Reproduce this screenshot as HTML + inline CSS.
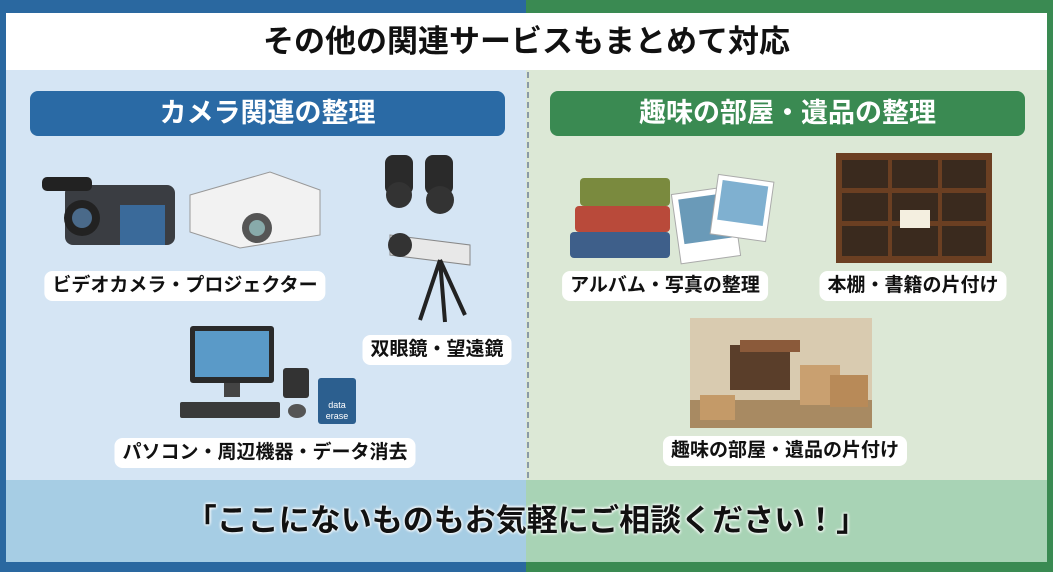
<!DOCTYPE html>
<html><head><meta charset="utf-8"><style>
*{margin:0;padding:0;box-sizing:border-box}
body{width:1053px;height:572px;position:relative;overflow:hidden;font-family:"Liberation Sans","Noto Sans CJK JP",sans-serif;background:#2a68a0}
.a{position:absolute}
.lbl{position:absolute;background:#fff;border-radius:8px;font-weight:bold;font-size:19px;color:#111;padding:2px 8px;white-space:nowrap;transform:translateX(-50%);line-height:26px}
.hd{position:absolute;top:91px;height:45px;border-radius:8px;color:#fff;font-weight:bold;font-size:27px;text-align:center;line-height:45px}
</style></head><body>
<div class="a" style="left:526px;top:0;width:527px;height:572px;background:#3a8a52"></div>
<div class="a" style="left:6px;top:70px;width:520px;height:410px;background:#d5e5f4"></div>
<div class="a" style="left:526px;top:70px;width:521px;height:410px;background:#dce8d6"></div>
<div class="a" style="left:527px;top:72px;height:406px;border-left:2px dashed #8a9aa8"></div>
<div class="a" style="left:6px;top:480px;width:520px;height:82px;background:#a6cde4"></div>
<div class="a" style="left:526px;top:480px;width:521px;height:82px;background:#a8d3b5"></div>
<div class="a" style="left:6px;top:13px;width:1041px;height:57px;background:#fff;text-align:center;font-weight:bold;font-size:31px;line-height:57px;color:#111">その他の関連サービスもまとめて対応</div>
<div class="hd" style="left:30px;width:475px;background:#2a6aa5">カメラ関連の整理</div>
<div class="hd" style="left:550px;width:475px;background:#3a8a52">趣味の部屋・遺品の整理</div>
<svg class="a" style="left:0;top:0" width="1053" height="572">
<!-- video camera -->
<rect x="65" y="185" width="110" height="60" rx="8" fill="#3a3d42"/><rect x="42" y="177" width="50" height="14" rx="5" fill="#222"/>
<circle cx="82" cy="218" r="18" fill="#222"/><circle cx="82" cy="218" r="10" fill="#4a6a8a"/>
<rect x="120" y="205" width="45" height="40" fill="#3a6a9a"/>
<!-- projector -->
<path d="M190 195 L270 172 L320 190 L320 235 L240 248 L190 232 Z" fill="#f2f2f2" stroke="#999"/>
<circle cx="257" cy="228" r="15" fill="#555"/><circle cx="257" cy="228" r="8" fill="#8aa"/>
<!-- binoculars -->
<rect x="385" y="155" width="28" height="40" rx="8" fill="#2a2a2a"/><rect x="425" y="155" width="28" height="40" rx="8" fill="#2a2a2a"/>
<circle cx="399" cy="195" r="13" fill="#333"/><circle cx="440" cy="200" r="14" fill="#333"/>
<!-- telescope -->
<path d="M390 235 L470 245 L470 265 L390 255 Z" fill="#e8e8e8" stroke="#888"/><circle cx="400" cy="245" r="12" fill="#333"/>
<path d="M440 260 L420 320 M440 260 L445 322 M440 260 L465 315" stroke="#222" stroke-width="4"/>
<!-- computer -->
<rect x="190" y="326" width="84" height="57" rx="3" fill="#2a2a2a"/><rect x="195" y="331" width="74" height="46" fill="#5a9ac8"/>
<rect x="224" y="383" width="16" height="14" fill="#444"/><rect x="180" y="402" width="100" height="16" rx="2" fill="#3a3a3a"/>
<rect x="283" y="368" width="26" height="30" rx="3" fill="#333"/><ellipse cx="297" cy="411" rx="9" ry="7" fill="#555"/>
<rect x="318" y="378" width="38" height="46" rx="3" fill="#2c5f8f"/>
<text x="337" y="408" font-size="9" fill="#fff" text-anchor="middle" font-family="Liberation Sans">data</text><text x="337" y="419" font-size="9" fill="#fff" text-anchor="middle" font-family="Liberation Sans">erase</text>
<!-- books -->
<rect x="570" y="232" width="100" height="26" rx="4" fill="#3e5f8a"/><rect x="575" y="206" width="95" height="26" rx="4" fill="#b94a3a"/><rect x="580" y="178" width="90" height="28" rx="4" fill="#7a8a3e"/>
<!-- photos -->
<rect x="676" y="190" width="60" height="70" fill="#fff" stroke="#aaa" transform="rotate(-8 706 225)"/><rect x="682" y="196" width="48" height="45" fill="#6a9ab8" transform="rotate(-8 706 225)"/>
<rect x="714" y="178" width="56" height="60" fill="#fff" stroke="#aaa" transform="rotate(8 742 208)"/><rect x="719" y="183" width="46" height="40" fill="#7fb0d0" transform="rotate(8 742 208)"/>
<!-- bookshelf -->
<rect x="836" y="153" width="156" height="110" fill="#6b3f22"/>
<g fill="#3a2a1e"><rect x="842" y="160" width="46" height="28"/><rect x="892" y="160" width="46" height="28"/><rect x="942" y="160" width="44" height="28"/>
<rect x="842" y="193" width="46" height="28"/><rect x="892" y="193" width="46" height="28"/><rect x="942" y="193" width="44" height="28"/>
<rect x="842" y="226" width="46" height="30"/><rect x="892" y="226" width="46" height="30"/><rect x="942" y="226" width="44" height="30"/></g>
<rect x="900" y="210" width="30" height="18" fill="#f4efe0"/>
<!-- room -->
<rect x="690" y="318" width="182" height="110" fill="#d9cbb0"/><rect x="690" y="400" width="182" height="28" fill="#a88a62"/>
<rect x="730" y="345" width="60" height="45" fill="#5a3e2a"/><rect x="800" y="365" width="40" height="40" fill="#c9a070"/><rect x="830" y="375" width="38" height="32" fill="#b88a58"/>
<rect x="700" y="395" width="35" height="25" fill="#c49a68"/><rect x="740" y="340" width="60" height="12" fill="#8b5a3a"/>
</svg>
<div class="lbl" style="left:185px;top:271px">ビデオカメラ・プロジェクター</div>
<div class="lbl" style="left:437px;top:335px">双眼鏡・望遠鏡</div>
<div class="lbl" style="left:265px;top:438px">パソコン・周辺機器・データ消去</div>
<div class="lbl" style="left:665px;top:271px">アルバム・写真の整理</div>
<div class="lbl" style="left:913px;top:271px">本棚・書籍の片付け</div>
<div class="lbl" style="left:785px;top:436px">趣味の部屋・遺品の片付け</div>
<div class="a" style="left:6px;top:480px;width:1041px;height:82px;text-align:center;font-weight:bold;font-size:31px;line-height:82px;color:#111;text-shadow:0 0 3px #fff,0 0 3px #fff,0 0 3px #fff">「ここにないものもお気軽にご相談ください！」</div>
</body></html>
